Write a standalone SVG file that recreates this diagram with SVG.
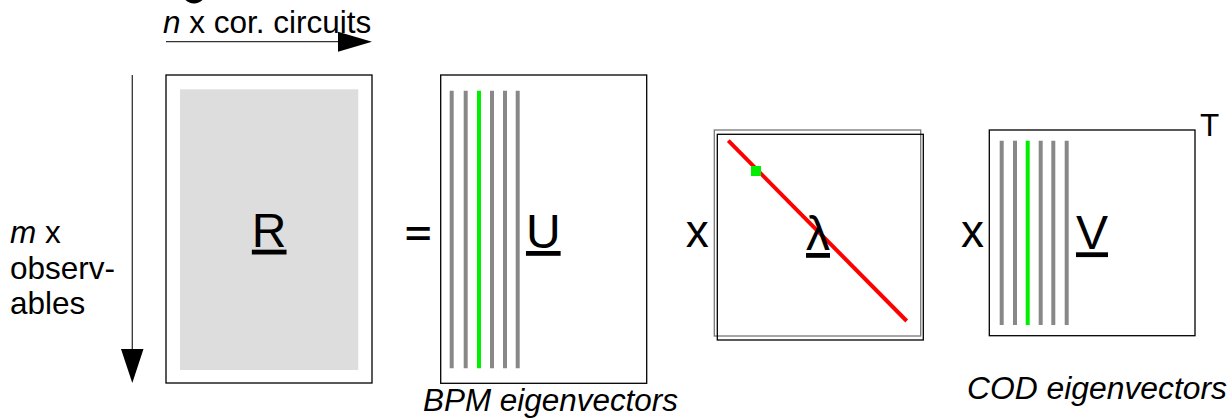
<svg xmlns="http://www.w3.org/2000/svg" width="1229" height="419" viewBox="0 0 1229 419">
<style>
.box{fill:#fff;stroke:#000;stroke-width:1.3}
.t{font-family:"Liberation Sans",Arial,sans-serif;fill:#000}
.lbl{font-size:31.5px}
.cap{font-size:31px;font-style:italic}
.big{font-size:48px;text-decoration:underline}
.op{font-size:46px}
.ev{stroke:#888;stroke-width:4}
.evg{stroke:#00ee00;stroke-width:4}
.ax{stroke:#333;stroke-width:1.3}
</style>
<rect width="1229" height="419" fill="#fff"/>
<circle cx="194" cy="-8.5" r="12" fill="#000"/>

<g id="connectors">
  <line class="ax" x1="166" y1="41.7" x2="340" y2="41.7"/>
  <polygon points="338,31.7 372,41.7 338,51.7" fill="#000"/>
  <line class="ax" x1="132.3" y1="75" x2="132.3" y2="351"/>
  <polygon points="121,349 143.5,349 132.3,383" fill="#000"/>
</g>

<g id="label-n">
  <text class="t lbl" x="163" y="33"><tspan font-style="italic">n</tspan> x cor. circuits</text>
</g>
<g id="label-m">
  <text class="t lbl" x="10" y="243"><tspan font-style="italic">m</tspan> x</text>
  <text class="t lbl" x="10" y="279">observ-</text>
  <text class="t lbl" x="10" y="314">ables</text>
</g>

<g id="node-R">
  <rect class="box" x="166" y="75" width="206" height="308"/>
  <rect x="180" y="89.3" width="178.3" height="280.7" fill="#dddddd"/>
  <text class="t big" x="269.2" y="246.7" text-anchor="middle">R</text>
</g>

<g id="op-eq"><text class="t op" font-weight="bold" x="418.3" y="246" text-anchor="middle" transform="translate(0 246) scale(1 0.75) translate(0 -246)">=</text></g>

<g id="node-U">
  <rect class="box" x="440.7" y="75" width="206" height="308.3"/>
  <line class="ev" x1="451.7" y1="90.7" x2="451.7" y2="368.3"/>
  <line class="ev" x1="465.7" y1="90.7" x2="465.7" y2="368.3"/>
  <line class="evg" x1="479" y1="90.7" x2="479" y2="368.3"/>
  <line class="ev" x1="492" y1="90.7" x2="492" y2="368.3"/>
  <line class="ev" x1="505" y1="90.7" x2="505" y2="368.3"/>
  <line class="ev" x1="517.7" y1="90.7" x2="517.7" y2="368.3"/>
  <text class="t big" x="543.3" y="248" text-anchor="middle">U</text>
  <text class="t cap" x="423" y="410.7" textLength="255" lengthAdjust="spacingAndGlyphs">BPM eigenvectors</text>
</g>

<g id="op-x1"><text class="t op" x="697.3" y="246.7" text-anchor="middle">x</text></g>

<g id="node-lambda">
  <rect x="714.3" y="130" width="206.4" height="206" fill="#fff" stroke="#777" stroke-width="1.3"/>
  <rect x="717.3" y="134.3" width="206" height="205.7" fill="none" stroke="#000" stroke-width="1.3"/>
  <line x1="728.3" y1="140.7" x2="906.7" y2="321" stroke="#ff0000" stroke-width="4"/>
  <rect x="751" y="166" width="10" height="10" fill="#00ee00"/>
  <text class="t big" font-size="46" x="818" y="250" text-anchor="middle">λ</text>
</g>

<g id="op-x2"><text class="t op" x="972.5" y="246.7" text-anchor="middle">x</text></g>

<g id="node-V">
  <rect class="box" x="989.3" y="130" width="205.7" height="205.7"/>
  <line class="ev" x1="1001.7" y1="140.7" x2="1001.7" y2="325"/>
  <line class="ev" x1="1015" y1="140.7" x2="1015" y2="325"/>
  <line class="evg" x1="1027.7" y1="140.7" x2="1027.7" y2="325"/>
  <line class="ev" x1="1040.7" y1="140.7" x2="1040.7" y2="325"/>
  <line class="ev" x1="1053.3" y1="140.7" x2="1053.3" y2="325"/>
  <line class="ev" x1="1066.7" y1="140.7" x2="1066.7" y2="325"/>
  <text class="t big" x="1092" y="249.3" text-anchor="middle">V</text>
  <text class="t lbl" x="1209.5" y="135.7" text-anchor="middle">T</text>
  <text class="t cap" x="967" y="399.3" textLength="260" lengthAdjust="spacingAndGlyphs">COD eigenvectors</text>
</g>
</svg>
